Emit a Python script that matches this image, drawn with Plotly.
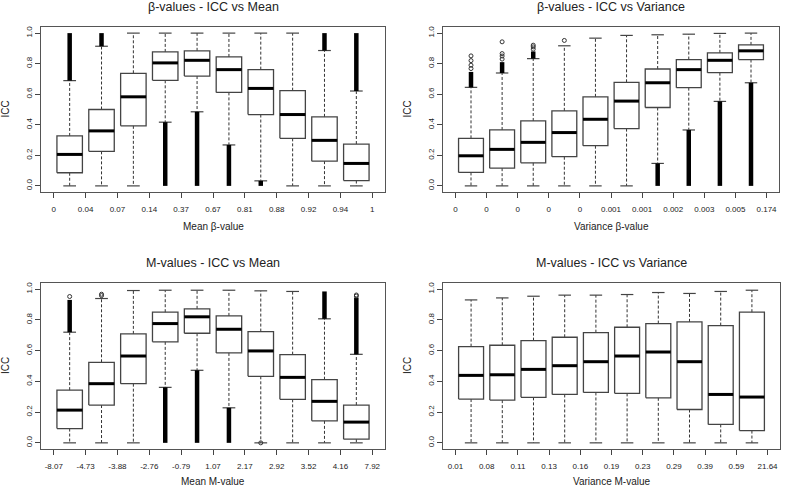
import plotly.graph_objects as go

W, H = 787, 489

# ---------------- data ----------------
titles = ["β-values - ICC vs Mean", "β-values - ICC vs Variance",
          "M-values - ICC vs Mean", "M-values - ICC vs Variance"]
xtitles = ["Mean β-value", "Variance β-value", "Mean M-value", "Variance M-value"]

tl_labels = ["0", "0.04", "0.07", "0.14", "0.37", "0.67", "0.81", "0.88", "0.92", "0.94", "1"]
tl_lo = [0, 0, 0, 0.417, 0.485, 0.268, 0.033, 0, 0, 0]
tl_q1 = [0.086, 0.226, 0.393, 0.691, 0.719, 0.612, 0.467, 0.311, 0.162, 0.035]
tl_med = [0.206, 0.360, 0.583, 0.805, 0.822, 0.761, 0.638, 0.467, 0.298, 0.147]
tl_q3 = [0.327, 0.500, 0.737, 0.877, 0.884, 0.844, 0.761, 0.623, 0.452, 0.274]
tl_hi = [0.689, 0.914, 1.0, 1.0, 1.0, 1.0, 1.0, 1.0, 0.886, 0.621]
tl_band_box = [1, 2, 4, 5, 6, 7, 9, 10]
tl_band_lo = [0.689, 0.914, 0.0, 0.0, 0.0, 0.0, 0.886, 0.621]
tl_band_hi = [1.0, 1.0, 0.417, 0.485, 0.268, 0.033, 1.0, 1.0]
tl_pt_box = []
tl_pt_y = []

tr_labels = ["0", "0", "0", "0", "0", "0.001", "0.001", "0.002", "0.003", "0.005", "0.174"]
tr_lo = [0, 0, 0, 0, 0, 0, 0.147, 0.366, 0.553, 0.675]
tr_q1 = [0.088, 0.116, 0.151, 0.191, 0.263, 0.375, 0.513, 0.643, 0.741, 0.827]
tr_med = [0.197, 0.239, 0.285, 0.349, 0.436, 0.555, 0.675, 0.761, 0.822, 0.884]
tr_q3 = [0.311, 0.366, 0.425, 0.491, 0.583, 0.678, 0.765, 0.827, 0.871, 0.923]
tr_hi = [0.645, 0.739, 0.833, 0.917, 0.967, 0.985, 0.989, 0.993, 0.998, 1.0]
tr_band_box = [1, 2, 3, 7, 8, 9, 10]
tr_band_lo = [0.645, 0.739, 0.833, 0.0, 0.0, 0.0, 0.0]
tr_band_hi = [0.746, 0.810, 0.880, 0.147, 0.366, 0.553, 0.675]
tr_pt_box = [1, 1, 1, 1, 2, 2, 2, 2, 3, 3, 3, 4]
tr_pt_y = [0.768, 0.790, 0.820, 0.851, 0.830, 0.850, 0.866, 0.943, 0.895, 0.910, 0.921, 0.952]

bl_labels = ["-8.07", "-4.73", "-3.88", "-2.76", "-0.79", "1.07", "2.17", "2.92", "3.52", "4.16", "7.92"]
bl_lo = [0, 0, 0, 0.361, 0.472, 0.228, 0, 0, 0, 0]
bl_q1 = [0.093, 0.246, 0.385, 0.657, 0.713, 0.585, 0.433, 0.283, 0.143, 0.024]
bl_med = [0.213, 0.385, 0.565, 0.776, 0.820, 0.739, 0.598, 0.426, 0.270, 0.135]
bl_q3 = [0.343, 0.524, 0.709, 0.850, 0.872, 0.826, 0.724, 0.574, 0.411, 0.246]
bl_hi = [0.720, 0.939, 0.991, 0.993, 0.993, 0.993, 0.989, 0.985, 0.807, 0.576]
bl_band_box = [1, 4, 5, 6, 9, 10]
bl_band_lo = [0.720, 0.0, 0.0, 0.0, 0.807, 0.576]
bl_band_hi = [0.930, 0.361, 0.472, 0.228, 0.985, 0.945]
bl_pt_box = [1, 2, 2, 7, 10, 10]
bl_pt_y = [0.952, 0.958, 0.967, 0.0, 0.955, 0.962]

br_labels = ["0.01", "0.08", "0.11", "0.13", "0.16", "0.19", "0.23", "0.29", "0.39", "0.59", "21.64"]
br_lo = [0, 0, 0, 0, 0, 0, 0, 0, 0, 0]
br_q1 = [0.285, 0.278, 0.296, 0.315, 0.328, 0.322, 0.293, 0.217, 0.120, 0.080]
br_med = [0.439, 0.443, 0.478, 0.502, 0.528, 0.565, 0.591, 0.528, 0.315, 0.298]
br_q3 = [0.626, 0.635, 0.665, 0.687, 0.717, 0.752, 0.776, 0.787, 0.763, 0.850]
br_hi = [0.930, 0.943, 0.954, 0.961, 0.961, 0.965, 0.978, 0.972, 0.985, 0.993]
br_band_box = []
br_band_lo = []
br_band_hi = []
br_pt_box = []
br_pt_y = []

ytick_vals = [0, 0.2, 0.4, 0.6, 0.8, 1.0]
ytick_text = ["0.0", "0.2", "0.4", "0.6", "0.8", "1.0"]

panels = [
    (tl_labels, tl_lo, tl_q1, tl_med, tl_q3, tl_hi, tl_band_box, tl_band_lo, tl_band_hi, tl_pt_box, tl_pt_y),
    (tr_labels, tr_lo, tr_q1, tr_med, tr_q3, tr_hi, tr_band_box, tr_band_lo, tr_band_hi, tr_pt_box, tr_pt_y),
    (bl_labels, bl_lo, bl_q1, bl_med, bl_q3, bl_hi, bl_band_box, bl_band_lo, bl_band_hi, bl_pt_box, bl_pt_y),
    (br_labels, br_lo, br_q1, br_med, br_q3, br_hi, br_band_box, br_band_lo, br_band_hi, br_pt_box, br_pt_y),
]

# ---------------- layout geometry (pixels) ----------------
# frame: x0, x1, ytop, ybottom
frames = [(41, 385, 27, 192), (443, 779, 27, 192), (41, 385, 283, 449), (443, 780, 283, 449)]
xtitle_off = [34, 34, 32, 32]

FONT = "Liberation Sans, Arial, sans-serif"
TXT = "#222222"
BOXW = 0.4
CAPW = 0.2

fig = go.Figure()
layout = dict(width=W, height=H, margin=dict(l=0, r=0, t=0, b=0),
              paper_bgcolor="white", plot_bgcolor="white", showlegend=False,
              font=dict(family=FONT, color=TXT), hovermode=False)
annotations = []

for k, (labels, lo, q1, med, q3, hi, bb, blo, bhi, pb, py) in enumerate(panels):
    n = k + 1
    xa = "x" if n == 1 else f"x{n}"
    ya = "y" if n == 1 else f"y{n}"
    pos = list(range(1, len(q1) + 1))

    wx, wy, cx, cy, bx, by, mx, my = [], [], [], [], [], [], [], []
    for i, p in enumerate(pos):
        wx += [p, p, None, p, p, None]
        wy += [q3[i], hi[i], None, q1[i], lo[i], None]
        cx += [p - CAPW, p + CAPW, None, p - CAPW, p + CAPW, None]
        cy += [hi[i], hi[i], None, lo[i], lo[i], None]
        bx += [p - BOXW, p + BOXW, p + BOXW, p - BOXW, p - BOXW, None]
        by += [q1[i], q1[i], q3[i], q3[i], q1[i], None]
        mx += [p - BOXW, p + BOXW, None]
        my += [med[i], med[i], None]

    fig.add_trace(go.Scatter(x=wx, y=wy, mode="lines", xaxis=xa, yaxis=ya, hoverinfo="skip",
                             line=dict(color="#333333", width=1, dash="3px,2px")))
    fig.add_trace(go.Scatter(x=cx, y=cy, mode="lines", xaxis=xa, yaxis=ya, hoverinfo="skip",
                             line=dict(color="#444444", width=1.2)))
    fig.add_trace(go.Scatter(x=bx, y=by, mode="lines", xaxis=xa, yaxis=ya, hoverinfo="skip",
                             line=dict(color="#444444", width=1.3)))
    fig.add_trace(go.Scatter(x=mx, y=my, mode="lines", xaxis=xa, yaxis=ya, hoverinfo="skip",
                             line=dict(color="#000000", width=3)))
    if bb:
        ox, oy = [], []
        for j, b in enumerate(bb):
            ox += [b, b, None]
            oy += [blo[j], bhi[j], None]
        fig.add_trace(go.Scatter(x=ox, y=oy, mode="lines", xaxis=xa, yaxis=ya, hoverinfo="skip",
                                 line=dict(color="#000000", width=4.5)))
    if pb:
        fig.add_trace(go.Scatter(x=pb, y=py, mode="markers", xaxis=xa, yaxis=ya, hoverinfo="skip",
                                 marker=dict(symbol="circle-open", size=4, color="#333333",
                                             line=dict(width=1))))

    x0, x1, yt, yb = frames[k]
    xkey = "xaxis" if n == 1 else f"xaxis{n}"
    ykey = "yaxis" if n == 1 else f"yaxis{n}"
    layout[xkey] = dict(domain=[x0 / W, x1 / W], anchor=ya, range=[0.1, len(q1) + 0.9],
                        tickmode="array", tickvals=[p - 0.5 for p in pos] + [len(pos) + 0.5],
                        ticktext=labels, ticks="outside", ticklen=5, tickcolor="#444444",
                        showline=True, mirror=True, linecolor="#555555", linewidth=1,
                        showgrid=False, zeroline=False, fixedrange=True, ticklabelstandoff=4,
                        tickfont=dict(size=8, color=TXT, family=FONT))
    layout[ykey] = dict(domain=[1 - yb / H, 1 - yt / H], anchor=xa, range=[-0.04, 1.04],
                        tickmode="array", tickvals=ytick_vals, ticktext=ytick_text,
                        tickangle=-90, ticks="outside", ticklen=5, tickcolor="#444444",
                        showline=True, mirror=True, linecolor="#555555", linewidth=1,
                        showgrid=False, zeroline=False, fixedrange=True,
                        tickfont=dict(size=8, color=TXT, family=FONT))

    xc = (x0 + x1) / 2
    annotations.append(dict(text=titles[k], x=xc / W, y=1 - (yt - 20) / H, xref="paper", yref="paper",
                            showarrow=False, xanchor="center", yanchor="middle",
                            font=dict(size=12.5, color=TXT, family=FONT)))
    annotations.append(dict(text=xtitles[k], x=xc / W, y=1 - (yb + xtitle_off[k]) / H, xref="paper",
                            yref="paper", showarrow=False, xanchor="center", yanchor="middle",
                            font=dict(size=10, color=TXT, family=FONT)))
    annotations.append(dict(text="ICC", x=(x0 - 36) / W, y=1 - ((yt + yb) / 2) / H, xref="paper",
                            yref="paper", showarrow=False, xanchor="center", yanchor="middle",
                            textangle=-90, font=dict(size=10, color=TXT, family=FONT)))

layout["annotations"] = annotations
fig.update_layout(**layout)
fig.write_html("out.html", config={"displayModeBar": False, "staticPlot": True},
               post_script="document.body.style.margin='0px';document.body.style.overflow='hidden';")
